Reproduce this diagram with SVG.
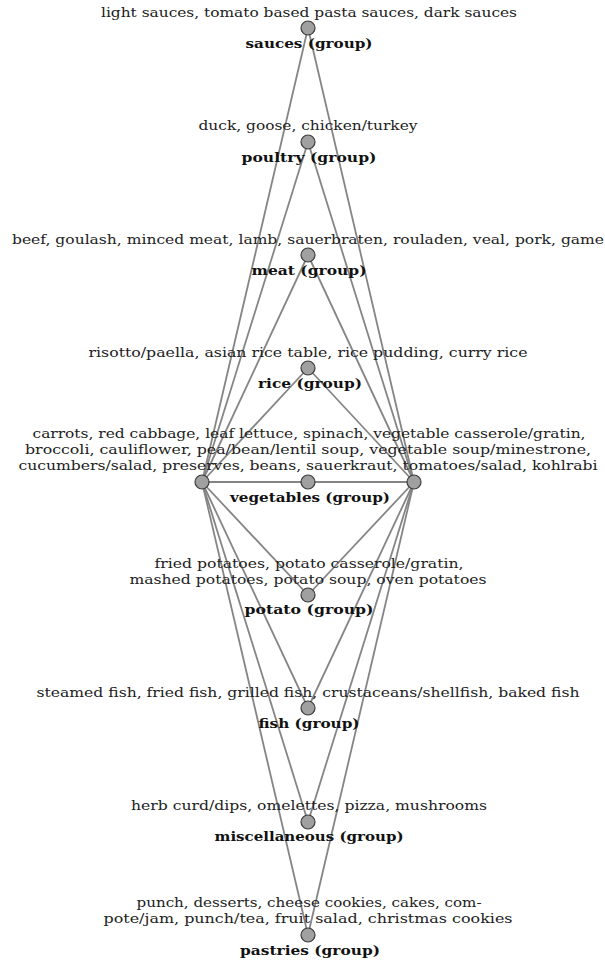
<svg xmlns="http://www.w3.org/2000/svg" width="605" height="962" viewBox="0 0 605 962">
<style>
.e{stroke:#858585;stroke-width:1.8;fill:none}
.n{fill:#a0a0a0;stroke:#3c3c3c;stroke-width:1.2}
.d{font-family:"DejaVu Serif","Liberation Serif",serif;font-size:12.5px;fill:#222;text-anchor:middle}
.l{font-family:"DejaVu Serif","Liberation Serif",serif;font-size:12.5px;font-weight:bold;fill:#111;text-anchor:middle}
</style>
<rect width="605" height="962" fill="#fff"/>
<g id="connectors">
<line class="e" x1="202" y1="482" x2="308" y2="28"/>
<line class="e" x1="202" y1="482" x2="308" y2="142"/>
<line class="e" x1="202" y1="482" x2="308" y2="255"/>
<line class="e" x1="202" y1="482" x2="308" y2="368"/>
<line class="e" x1="202" y1="482" x2="308" y2="482"/>
<line class="e" x1="202" y1="482" x2="308" y2="595"/>
<line class="e" x1="202" y1="482" x2="308" y2="708"/>
<line class="e" x1="202" y1="482" x2="308" y2="822"/>
<line class="e" x1="202" y1="482" x2="308" y2="935"/>
<line class="e" x1="414" y1="482" x2="308" y2="28"/>
<line class="e" x1="414" y1="482" x2="308" y2="142"/>
<line class="e" x1="414" y1="482" x2="308" y2="255"/>
<line class="e" x1="414" y1="482" x2="308" y2="368"/>
<line class="e" x1="414" y1="482" x2="308" y2="482"/>
<line class="e" x1="414" y1="482" x2="308" y2="595"/>
<line class="e" x1="414" y1="482" x2="308" y2="708"/>
<line class="e" x1="414" y1="482" x2="308" y2="822"/>
<line class="e" x1="414" y1="482" x2="308" y2="935"/>
</g>
<g id="left"><circle class="n" cx="202" cy="482" r="7"/></g>
<g id="right"><circle class="n" cx="414" cy="482" r="7"/></g>
<g id="sauces">
<text class="d" x="309" y="17" textLength="416" lengthAdjust="spacingAndGlyphs">light sauces, tomato based pasta sauces, dark sauces</text>
<circle class="n" cx="308" cy="28" r="7"/>
<text class="l" x="309" y="48" textLength="127" lengthAdjust="spacingAndGlyphs">sauces (group)</text>
</g>
<g id="poultry">
<text class="d" x="308" y="130" textLength="219" lengthAdjust="spacingAndGlyphs">duck, goose, chicken/turkey</text>
<circle class="n" cx="308" cy="142" r="7"/>
<text class="l" x="309" y="162" textLength="135" lengthAdjust="spacingAndGlyphs">poultry (group)</text>
</g>
<g id="meat">
<text class="d" x="308" y="244" textLength="592" lengthAdjust="spacingAndGlyphs">beef, goulash, minced meat, lamb, sauerbraten, rouladen, veal, pork, game</text>
<circle class="n" cx="308" cy="255" r="7"/>
<text class="l" x="309" y="275" textLength="115" lengthAdjust="spacingAndGlyphs">meat (group)</text>
</g>
<g id="rice">
<text class="d" x="308" y="357" textLength="439" lengthAdjust="spacingAndGlyphs">risotto/paella, asian rice table, rice pudding, curry rice</text>
<circle class="n" cx="308" cy="368" r="7"/>
<text class="l" x="310" y="388" textLength="104" lengthAdjust="spacingAndGlyphs">rice (group)</text>
</g>
<g id="vegetables">
<text class="d" x="309" y="438" textLength="553" lengthAdjust="spacingAndGlyphs">carrots, red cabbage, leaf lettuce, spinach, vegetable casserole/gratin,</text>
<text class="d" x="308" y="454" textLength="566" lengthAdjust="spacingAndGlyphs">broccoli, cauliflower, pea/bean/lentil soup, vegetable soup/minestrone,</text>
<text class="d" x="308" y="470" textLength="579" lengthAdjust="spacingAndGlyphs">cucumbers/salad, preserves, beans, sauerkraut, tomatoes/salad, kohlrabi</text>
<circle class="n" cx="308" cy="482" r="7"/>
<text class="l" x="310" y="502" textLength="160" lengthAdjust="spacingAndGlyphs">vegetables (group)</text>
</g>
<g id="potato">
<text class="d" x="309" y="568" textLength="309" lengthAdjust="spacingAndGlyphs">fried potatoes, potato casserole/gratin,</text>
<text class="d" x="308" y="584" textLength="357" lengthAdjust="spacingAndGlyphs">mashed potatoes, potato soup, oven potatoes</text>
<circle class="n" cx="308" cy="595" r="7"/>
<text class="l" x="309" y="614" textLength="129" lengthAdjust="spacingAndGlyphs">potato (group)</text>
</g>
<g id="fish">
<text class="d" x="308" y="697" textLength="543" lengthAdjust="spacingAndGlyphs">steamed fish, fried fish, grilled fish, crustaceans/shellfish, baked fish</text>
<circle class="n" cx="308" cy="708" r="7"/>
<text class="l" x="309" y="728" textLength="101" lengthAdjust="spacingAndGlyphs">fish (group)</text>
</g>
<g id="miscellaneous">
<text class="d" x="309" y="810" textLength="356" lengthAdjust="spacingAndGlyphs">herb curd/dips, omelettes, pizza, mushrooms</text>
<circle class="n" cx="308" cy="822" r="7"/>
<text class="l" x="309" y="841" textLength="189" lengthAdjust="spacingAndGlyphs">miscellaneous (group)</text>
</g>
<g id="pastries">
<text class="d" x="309" y="907" textLength="345" lengthAdjust="spacingAndGlyphs">punch, desserts, cheese cookies, cakes, com-</text>
<text class="d" x="308" y="923" textLength="409" lengthAdjust="spacingAndGlyphs">pote/jam, punch/tea, fruit salad, christmas cookies</text>
<circle class="n" cx="308" cy="935" r="7"/>
<text class="l" x="310" y="955" textLength="140" lengthAdjust="spacingAndGlyphs">pastries (group)</text>
</g>
</svg>
